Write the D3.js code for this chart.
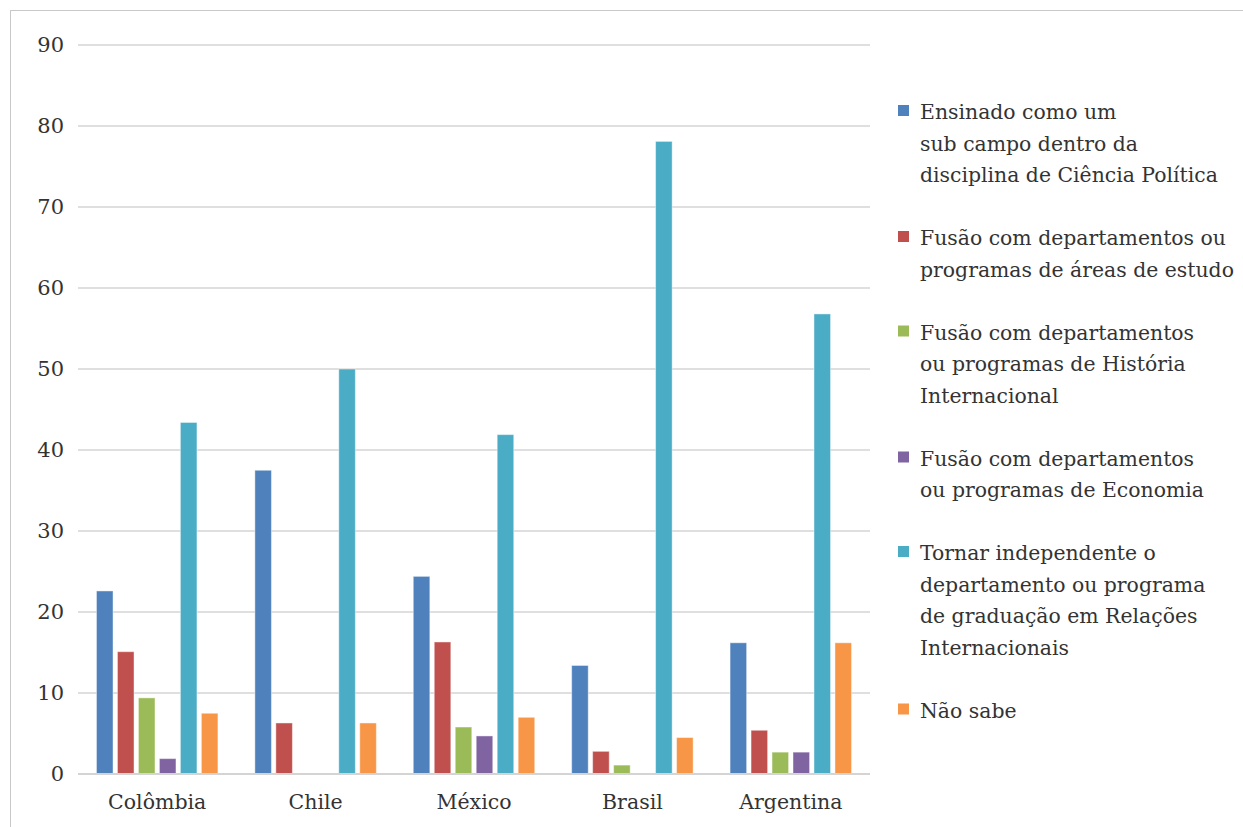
<!DOCTYPE html>
<html>
<head>
<meta charset="utf-8">
<script src="https://cdn.jsdelivr.net/npm/d3@7"></script>
<style>
  body { margin: 0; background: #fff; }
  svg text { font-family: "DejaVu Serif", "Liberation Serif", serif; fill: #333; }
</style>
</head>
<body>
<div id="chart"></div>
<script>
// --- Data ---
const countries = ['Colômbia', 'Chile', 'México', 'Brasil', 'Argentina'];
const seriesNames = [
    ['Ensinado como um', 'sub campo dentro da', 'disciplina de Ciência Política'],
    ['Fusão com departamentos ou', 'programas de áreas de estudo'],
    ['Fusão com departamentos', 'ou programas de História', 'Internacional'],
    ['Fusão com departamentos', 'ou programas de Economia'],
    ['Tornar independente o', 'departamento ou programa', 'de graduação em Relações', 'Internacionais'],
    ['Não sabe']
];
const colors = ['#4F81BD', '#C0504D', '#9BBB59', '#8064A2', '#4BACC6', '#F79646'];
// one array per series, values per country
const subCampo     = [22.6, 37.5, 24.4, 13.4, 16.2];
const areasEstudo  = [15.1, 6.3, 16.3, 2.8, 5.4];
const historia     = [9.4, 0, 5.8, 1.1, 2.7];
const economia     = [1.9, 0, 4.7, 0, 2.7];
const independente = [43.4, 50.0, 41.9, 78.1, 56.8];
const naoSabe      = [7.5, 6.3, 7.0, 4.5, 16.2];
const seriesValues = [subCampo, areasEstudo, historia, economia, independente, naoSabe];
const yTicks = [0, 10, 20, 30, 40, 50, 60, 70, 80, 90];

// --- Setup ---
const W = 1243, H = 827;
const FONT = '"DejaVu Serif", "Liberation Serif", serif';
const svg = d3.select('#chart').append('svg').attr('width', W).attr('height', H);

// outer frame (only top/left visible in the crop)
svg.append('rect').attr('x', 10.5).attr('y', 10.5).attr('width', 1400).attr('height', 1000)
    .attr('fill', 'none').attr('stroke', '#c8c8c8').attr('stroke-width', 1);

const plot = { left: 78, right: 870, top: 45, bottom: 774 };

const x0 = d3.scaleBand().domain(countries).range([plot.left, plot.right]);
const x1 = d3.scaleBand().domain(d3.range(seriesValues.length))
    .range([0, x0.bandwidth()]).paddingInner(0.21).paddingOuter(0.88);
const y = d3.scaleLinear().domain([0, 90]).range([plot.bottom, plot.top]);

// gridlines
svg.append('g').selectAll('line').data(yTicks).join('line')
    .attr('x1', plot.left).attr('x2', plot.right)
    .attr('y1', d => y(d)).attr('y2', d => y(d))
    .attr('stroke', '#d4d4d4').attr('stroke-width', 1.5);

// y axis labels
const yAxis = svg.append('g').attr('transform', `translate(${plot.left},0)`)
    .call(d3.axisLeft(y).tickValues(yTicks).tickSize(0).tickPadding(14));
yAxis.select('.domain').remove();
yAxis.selectAll('text').style('font-size', '21px').attr('fill', '#333').style('font-family', FONT);

// bars
const groups = svg.append('g').selectAll('g').data(countries).join('g')
    .attr('transform', d => `translate(${x0(d)},0)`);
groups.selectAll('rect')
    .data((c, ci) => seriesValues.map((vals, si) => ({ si, v: vals[ci] })))
    .join('rect')
    .filter(d => d.v > 0)
    .attr('x', d => x1(d.si))
    .attr('width', x1.bandwidth())
    .attr('y', d => y(d.v))
    .attr('height', d => y(0) - y(d.v))
    .attr('fill', d => colors[d.si])
    .attr('stroke', 'rgba(255,255,255,0.45)').attr('stroke-width', 1);

// baseline
svg.append('line').attr('x1', plot.left).attr('x2', plot.right)
    .attr('y1', y(0)).attr('y2', y(0)).attr('stroke', '#d4d4d4').attr('stroke-width', 2);

// x axis labels
const xAxis = svg.append('g').attr('transform', `translate(0,${plot.bottom})`)
    .call(d3.axisBottom(x0).tickSize(0).tickPadding(20));
xAxis.select('.domain').remove();
xAxis.selectAll('text').style('font-size', '20.5px').attr('fill', '#333').style('font-family', FONT);

// legend
const lineH = 31.5;
const legend = svg.append('g').attr('transform', 'translate(898,119)');
let row = 0;
seriesNames.forEach((lines, i) => {
    const gy = row * lineH;
    legend.append('rect').attr('x', 0).attr('y', gy - 14).attr('width', 11).attr('height', 11)
        .attr('fill', colors[i]);
    const t = legend.append('text').attr('x', 22).attr('y', gy).style('font-size', '20.4px');
    lines.forEach((ln, k) => t.append('tspan').attr('x', 22).attr('y', gy + k * lineH).text(ln));
    row += lines.length + 1;
});
</script>
</body>
</html>
